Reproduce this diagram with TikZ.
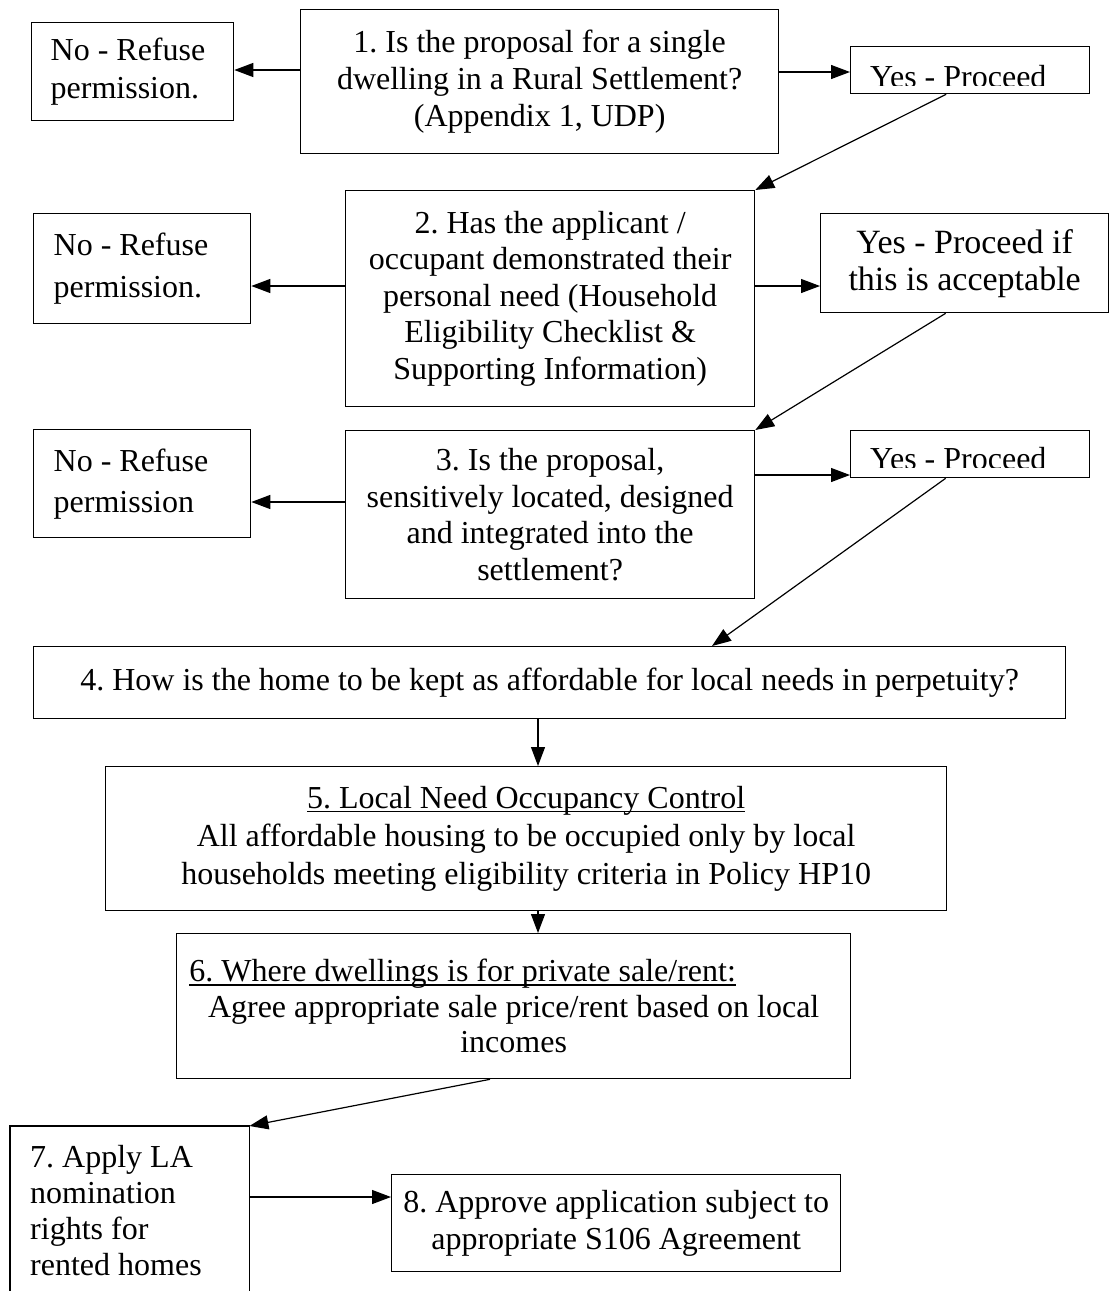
\documentclass[tikz,border=0pt]{standalone}
\usepackage{fontspec}
\setmainfont{Liberation Serif}
\usetikzlibrary{arrows.meta}
\newcommand\ulx[1]{\setbox0=\hbox{#1}\rlap{\rule[-4pt]{\wd0}{1.3pt}}\box0}
\frenchspacing
\begin{document}
\begin{tikzpicture}[x=1pt, y={(0pt,-1pt)},
  box/.style={draw, line width=1.3pt, inner sep=0pt, anchor=north west, align=flush center,
              font=\fontsize{32}{36.6}\selectfont\frenchspacing},
  txt/.style={font=\fontsize{32}{36.6}\selectfont\frenchspacing, inner sep=0pt},
  arr/.style={-{Triangle[length=19pt,width=14pt]}, line width=1.2pt}]
\useasboundingbox (0,0) rectangle (1113,1291);
\clip (0,0) rectangle (1113,1291);

% row 1
\node[box, minimum width=202pt, minimum height=98pt, text width=164pt, align=flush left,
      font=\fontsize{32}{38}\selectfont] (no1) at (31,22) {No - Refuse\\permission.};
\node[box, minimum width=478pt, minimum height=144pt] (b1) at (300,9)
  {1. Is the proposal for a single\\dwelling in a Rural Settlement?\\(Appendix 1, UDP)};
\node[box, minimum width=239pt, minimum height=47pt] (y1) at (850,46) {};
\begin{scope}
  \clip (850,46) rectangle (1089,85.5);
  \node[txt, anchor=base west] (y1t) at (870,87) {Yes - Proceed};
\end{scope}

% row 2
\node[box, minimum width=217pt, minimum height=110pt, text width=177pt, align=flush left,
      font=\fontsize{32}{42.7}\selectfont] (no2) at (33,213) {No - Refuse\\permission.};
\node[box, minimum width=409pt, minimum height=216pt] (b2) at (345,190)
  {2. Has the applicant /\\occupant demonstrated their\\personal need (Household\\Eligibility Checklist \&\\Supporting Information)};
\node[box, minimum width=288pt, minimum height=99pt,
      font=\fontsize{34}{37}\selectfont] (y2) at (820,213) {Yes - Proceed if\\this is acceptable};

% row 3
\node[box, minimum width=217pt, minimum height=108pt, text width=177pt, align=flush left,
      font=\fontsize{32}{41}\selectfont] (no3) at (33,429) {No - Refuse\\permission};
\node[box, minimum width=409pt, minimum height=168pt] (b3) at (345,430)
  {3. Is the proposal,\\sensitively located, designed\\and integrated into the\\settlement?};
\node[box, minimum width=239pt, minimum height=47pt] (y3) at (850,430) {};
\begin{scope}
  \clip (850,430) rectangle (1089,467);
  \node[txt, anchor=base west] (y3t) at (870,469) {Yes - Proceed};
\end{scope}

% rows 4-6
\node[box, minimum width=1032pt, minimum height=72pt] (b4) at (33,646)
  {4. How is the home to be kept as affordable for local needs in perpetuity?};
\node[box, minimum width=841pt, minimum height=144pt,
      font=\fontsize{32}{38.3}\selectfont] (b5) at (105,766)
  {\ulx{5. Local Need Occupancy Control}\\All affordable housing to be occupied only by local\\households meeting eligibility criteria in Policy HP10};
\node[box, minimum width=674pt, minimum height=145pt,
      font=\fontsize{32}{35.5}\selectfont] (b6) at (176,933)
  {\hspace*{-102pt}\ulx{6. Where dwellings is for private sale/rent:}\\Agree appropriate sale price/rent based on local\\incomes};

% row 7-8
\node[anchor=north west, minimum width=239pt, text width=199pt, align=flush left, inner xsep=0pt,
      inner ysep=19pt, font=\fontsize{32}{36}\selectfont] (b7) at (10,1126)
  {7. Apply LA\\nomination\\rights for\\rented homes};
\draw[line width=1.3pt] (b7.north west |- 0,1300) -- (b7.north west) -- (b7.north east) -- (b7.north east |- 0,1300);
\node[box, minimum width=449pt, minimum height=97pt] (b8) at (391,1174)
  {8. Approve application subject to\\appropriate S106 Agreement};

% connectors
\draw[arr] (b1.west |- 0,70) -- (no1.east |- 0,70);
\draw[arr] (b1.east |- 0,72) -- (y1.west |- 0,72);
\draw[arr] ([xshift=-24pt]y1.south) -- (b2.north east);
\draw[arr] (b2.west |- 0,286) -- (no2.east |- 0,286);
\draw[arr] (b2.east |- 0,286) -- (y2.west |- 0,286);
\draw[arr] ([xshift=-19pt]y2.south) -- (b3.north east);
\draw[arr] (b3.west |- 0,502) -- (no3.east |- 0,502);
\draw[arr] (b3.east |- 0,475) -- (y3.west |- 0,475);
\draw[arr] ([xshift=-24.5pt]y3.south) -- (b4.north -| 712,0);
\draw[arr] (b4.south -| 538,0) -- (b5.north -| 538,0);
\draw[arr] (b5.south -| 538,0) -- (b6.north -| 538,0);
\draw[arr] (b6.south -| 490,0) -- (b7.north east);
\draw[arr] (b7.east |- 0,1197) -- (b8.west |- 0,1197);
\end{tikzpicture}
\end{document}
